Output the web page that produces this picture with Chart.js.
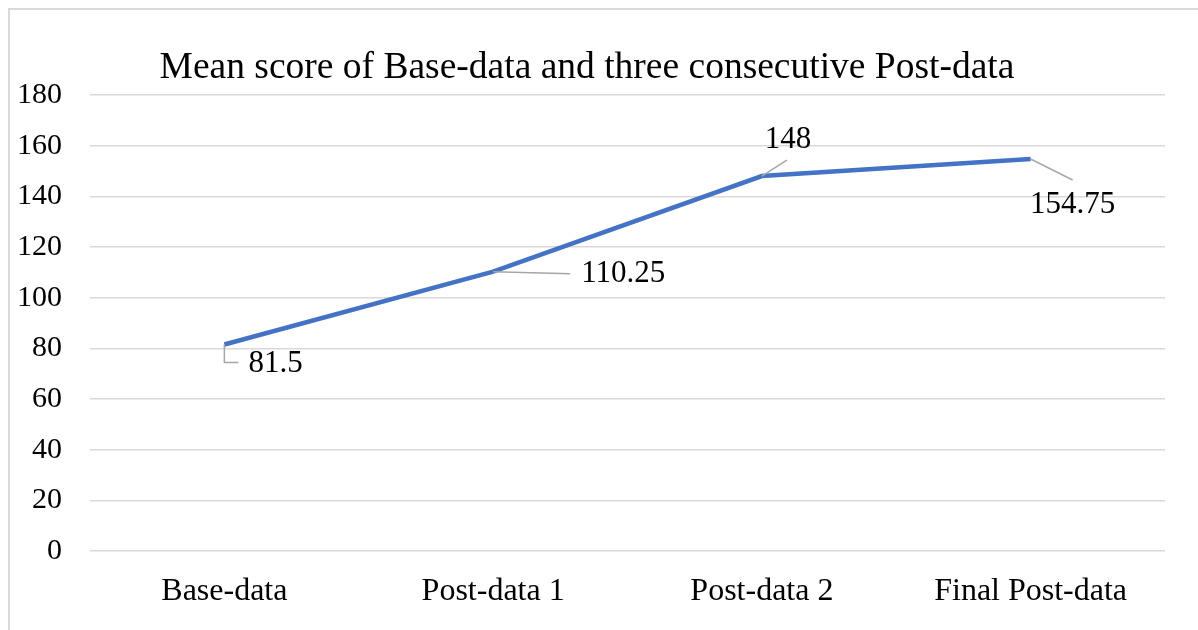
<!DOCTYPE html>
<html>
<head>
<meta charset="utf-8">
<script src="https://cdn.jsdelivr.net/npm/chart.js@4.4.1/dist/chart.umd.min.js"></script>
<style>
  html, body { margin: 0; padding: 0; background: #fff; overflow: hidden; }
  #wrap { width: 1198px; height: 630px; position: relative; }
</style>
</head>
<body>
<div id="wrap"><canvas id="meanChart" width="1198" height="630"></canvas></div>
<script>
const categories = ['Base-data', 'Post-data 1', 'Post-data 2', 'Final Post-data'];
const meanScores = [81.5, 110.25, 148, 154.75];
const yTicks = [0, 20, 40, 60, 80, 100, 120, 140, 160, 180];
const chartTitle = 'Mean score of Base-data and three consecutive Post-data';

const serif = '"Liberation Serif", "Times New Roman", serif';

// label offsets from the point (leader end, text anchor)
const labelSpots = [
    { leader: [[0, 18], [14, 18]], text: [24, 19], align: 'left' },
    { leader: [[77, 2]], text: [88, 2], align: 'left' },
    { leader: [[25, -16]], text: [26, -36], align: 'center' },
    { leader: [[42, 21]], text: [42, 46], align: 'center' }
];

const frame = {
    id: 'frame',
    beforeDraw(chart) {
        const c = chart.ctx;
        c.save();
        c.fillStyle = '#fff';
        c.fillRect(0, 0, chart.width, chart.height);
        c.strokeStyle = '#d9d9d9';
        c.lineWidth = 2;
        c.beginPath();
        c.moveTo(9, chart.height);
        c.lineTo(9, 9);
        c.lineTo(chart.width, 9);
        c.stroke();
        c.fillStyle = '#000';
        c.font = '37.5px ' + serif;
        c.textAlign = 'center';
        c.textBaseline = 'alphabetic';
        c.fillText(chartTitle, 587, 78);
        c.restore();
    }
};

const pointLabels = {
    id: 'pointLabels',
    afterDatasetsDraw(chart) {
        const c = chart.ctx;
        const pts = chart.getDatasetMeta(0).data;
        c.save();
        pts.forEach((p, i) => {
            const s = labelSpots[i];
            c.strokeStyle = '#a6a6a6';
            c.lineWidth = 1.5;
            c.beginPath();
            c.moveTo(p.x, p.y);
            s.leader.forEach(([dx, dy]) => c.lineTo(p.x + dx, p.y + dy));
            c.stroke();
            c.fillStyle = '#000';
            c.font = '31px ' + serif;
            c.textAlign = s.align;
            c.textBaseline = 'middle';
            c.fillText(String(meanScores[i]), p.x + s.text[0], p.y + s.text[1]);
        });
        c.restore();
    }
};

new Chart(document.getElementById('meanChart'), {
    type: 'line',
    data: {
        labels: categories,
        datasets: [{
            data: meanScores,
            borderColor: '#4472C4',
            borderWidth: 4.5,
            pointRadius: 0,
            tension: 0,
            fill: false
        }]
    },
    options: {
        responsive: false,
        animation: false,
        layout: { padding: { left: 0, right: 33, top: 95, bottom: 0 } },
        plugins: {
            legend: { display: false },
            title: { display: false },
            tooltip: { enabled: false }
        },
        scales: {
            x: {
                offset: true,
                grid: { display: false },
                border: { display: false },
                ticks: {
                    color: '#000',
                    font: { family: serif, size: 32 },
                    padding: 13,
                    maxRotation: 0
                },
                afterFit(scale) { scale.height = 79; }
            },
            y: {
                min: 0,
                max: 180,
                afterBuildTicks(scale) { scale.ticks = yTicks.map(v => ({ value: v })); },
                grid: { color: '#d9d9d9', lineWidth: 1.5, drawTicks: false },
                border: { display: false },
                ticks: {
                    color: '#000',
                    font: { family: serif, size: 30 },
                    padding: 28
                },
                afterFit(scale) { scale.width = 90; }
            }
        }
    },
    plugins: [frame, pointLabels]
});
</script>
</body>
</html>
